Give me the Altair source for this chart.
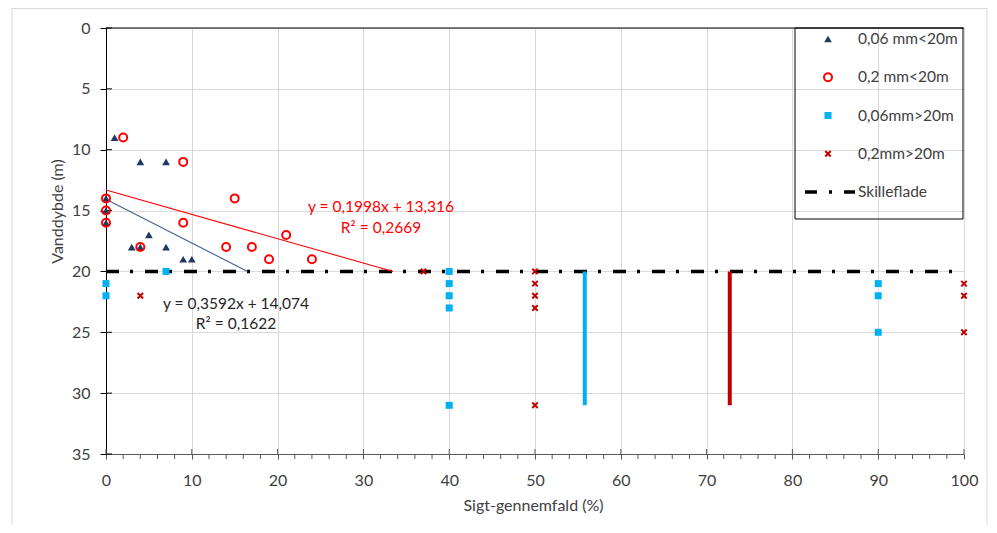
import altair as alt
import pandas as pd

# ---------------- data ----------------
tri_x = [0, 0, 0, 1, 4, 7, 5, 3, 4, 7, 9, 10]
tri_y = [14, 15, 16, 9, 11, 11, 17, 18, 18, 18, 19, 19]
circ_x = [0, 0, 0, 2, 9, 15, 9, 4, 14, 17, 21, 19, 24]
circ_y = [14, 15, 16, 9, 11, 14, 16, 18, 18, 18, 17, 19, 19]
sq_x = [0, 0, 7, 40, 40, 40, 40, 40, 90, 90, 90]
sq_y = [21, 22, 20, 20, 21, 22, 23, 31, 21, 22, 25]
cross_x = [4, 37, 50, 50, 50, 50, 50, 100, 100, 100]
cross_y = [22, 20, 20, 21, 22, 23, 31, 21, 22, 25]

series_labels = ["0,06 mm<20m", "0,2 mm<20m", "0,06mm>20m", "0,2mm>20m", "Skilleflade"]
skille_depth = 20

trend_slope = [0.3592, 0.1998]
trend_intercept = [14.074, 13.316]
trend_eq = ["y = 0,3592x + 14,074", "y = 0,1998x + 13,316"]
trend_r2 = ["R² = 0,1622", "R² = 0,2669"]

bar_x = [55.8, 72.7]
bar_top = [20, 20]
bar_bottom = [31, 31]

x_ticks = [0, 10, 20, 30, 40, 50, 60, 70, 80, 90, 100]
y_ticks = [0, 5, 10, 15, 20, 25, 30, 35]
x_minor = [v for v in range(0, 101, 2) if v % 10 != 0]

# ---------------- styles ----------------
FONT = "Lato"
TXT = "#404040"
W, H = 858, 426

xs = alt.Scale(domain=[0, 100], nice=False, zero=False)
ys = alt.Scale(domain=[0, 35], reverse=True, nice=False, zero=False)

x_axis = alt.Axis(values=x_ticks, format="d", title="Sigt-gennemfald (%)",
                  grid=True, gridColor="#D9D9D9", gridWidth=1,
                  domainColor="#595959", tickColor="#595959", tickSize=5,
                  labelPadding=13, labelFlush=False, labelFont=FONT, labelFontSize=16,
                  labelColor=TXT, titleFont=FONT, titleFontSize=16,
                  titleFontWeight="normal", titleColor=TXT,
                  titleX=427, titleY=51, titleBaseline="middle", titleAlign="center")
y_axis = alt.Axis(values=y_ticks, format="d", title="Vanddybde (m)",
                  grid=True, gridColor="#D9D9D9", gridWidth=1,
                  domainColor="#000000", tickColor="#000000", tickSize=6,
                  labelPadding=10, labelFlush=False, labelFont=FONT, labelFontSize=16,
                  labelColor=TXT, titleFont=FONT, titleFontSize=16,
                  titleFontWeight="normal", titleColor=TXT,
                  titleX=-49, titleY=183, titleAngle=270,
                  titleBaseline="middle", titleAlign="center")


def X(f="x"):
    return alt.X(f"{f}:Q", scale=xs, axis=x_axis)


def Y(f="y"):
    return alt.Y(f"{f}:Q", scale=ys, axis=y_axis)


one = pd.DataFrame({"k": [0]})

point_styles = [
    dict(shape="triangle-up", filled=True, color="#1F3864", size=60),
    dict(shape="circle", filled=False, color="#FF0000", size=64, strokeWidth=2),
    dict(shape="square", filled=True, color="#00B0F0", size=49),
    dict(shape="M-1,-1L1,1M-1,1L1,-1", filled=False, color="#C00000", size=30, strokeWidth=2),
]
series_xy = [(tri_x, tri_y), (circ_x, circ_y), (sq_x, sq_y), (cross_x, cross_y)]

layers = []

# outer chart border
layers.append(alt.Chart(one).mark_rect(fillOpacity=0, stroke="#D9D9D9", strokeWidth=1).encode(
    x=alt.value(-94), x2=alt.value(881), y=alt.value(-19.5), y2=alt.value(600)))

# top line of plot area
top_df = pd.DataFrame({"x": [min(x_ticks)], "x2": [max(x_ticks)], "y": [min(y_ticks)]})
layers.append(alt.Chart(top_df).mark_rule(color="#000000", strokeWidth=1).encode(
    x=X(), x2="x2:Q", y=Y()))

# inward y ticks
layers.append(alt.Chart(pd.DataFrame({"v": y_ticks})).mark_rule(color="#000000").encode(
    y=Y("v"), x=alt.value(0), x2=alt.value(6)))
# inward x major ticks
layers.append(alt.Chart(pd.DataFrame({"v": x_ticks})).mark_rule(color="#595959").encode(
    x=X("v"), y=alt.value(H - 5), y2=alt.value(H)))
# x minor ticks
layers.append(alt.Chart(pd.DataFrame({"v": x_minor})).mark_rule(color="#595959").encode(
    x=X("v"), y=alt.value(H), y2=alt.value(H + 5)))

# Skilleflade
sk_df = pd.DataFrame({"x": [min(x_ticks)], "x2": [max(x_ticks)], "y": [skille_depth]})
layers.append(alt.Chart(sk_df).mark_rule(color="#000000", strokeWidth=3.5,
                                         strokeDash=[13, 11, 3, 12]).encode(
    x=X(), x2="x2:Q", y=Y()))

# vertical bars
bar_colors = ["#00B0F0", "#C00000"]
for i in range(len(bar_x)):
    bdf = pd.DataFrame({"x": [bar_x[i]], "y": [bar_top[i]], "y2": [bar_bottom[i]]})
    layers.append(alt.Chart(bdf).mark_rule(color=bar_colors[i], strokeWidth=4).encode(
        x=X(), y=Y(), y2="y2:Q"))

# trend lines (from x=0 to the Skilleflade depth)
trend_colors = ["#4A5D8F", "#FF0000"]
for i in range(len(trend_slope)):
    x_end = (skille_depth - trend_intercept[i]) / trend_slope[i]
    tdf = pd.DataFrame({"x": [0.0], "y": [trend_intercept[i]],
                        "x2": [x_end], "y2": [float(skille_depth)]})
    layers.append(alt.Chart(tdf).mark_rule(color=trend_colors[i], strokeWidth=1.1).encode(
        x=X(), y=Y(), x2="x2:Q", y2="y2:Q"))

# points
for (xv, yv), st in zip(series_xy, point_styles):
    pdf = pd.DataFrame({"x": xv, "y": yv})
    layers.append(alt.Chart(pdf).mark_point(opacity=1, **st).encode(x=X(), y=Y()))

# trend labels
label_colors = ["#262626", "#FF0000"]
label_pos = [(130, 276, 296), (275, 179, 200)]
for i in range(len(trend_eq)):
    px, py1, py2 = label_pos[i]
    layers.append(alt.Chart(one).mark_text(text=trend_eq[i], font=FONT, fontSize=15.5,
                                           color=label_colors[i], align="center",
                                           baseline="middle").encode(
        x=alt.value(px), y=alt.value(py1)))
    layers.append(alt.Chart(one).mark_text(text=trend_r2[i], font=FONT, fontSize=15.5,
                                           color=label_colors[i], align="center",
                                           baseline="middle").encode(
        x=alt.value(px), y=alt.value(py2)))

# legend
LX0, LX1, LY0, LY1 = 689, 857, 0, 191
layers.append(alt.Chart(one).mark_rect(fillOpacity=0, stroke="#000000", strokeWidth=1).encode(
    x=alt.value(LX0), x2=alt.value(LX1), y=alt.value(LY0), y2=alt.value(LY1)))
for i, lab in enumerate(series_labels):
    ry = 11 + 38.25 * i
    if i < len(point_styles):
        layers.append(alt.Chart(one).mark_point(opacity=1, **point_styles[i]).encode(
            x=alt.value(722), y=alt.value(ry)))
    else:
        layers.append(alt.Chart(one).mark_rule(color="#000000", strokeWidth=3.5,
                                               strokeDash=[12, 12, 3, 12]).encode(
            x=alt.value(699), x2=alt.value(749), y=alt.value(ry)))
    layers.append(alt.Chart(one).mark_text(text=lab, font=FONT, fontSize=15.5, color=TXT,
                                           align="left", baseline="middle").encode(
        x=alt.value(752), y=alt.value(ry)))

chart = alt.layer(*layers).properties(
    width=W, height=H,
    autosize=alt.AutoSizeParams(type="none"),
    padding={"left": 98, "top": 20, "right": 25, "bottom": 71},
).configure_view(strokeOpacity=0)

chart.save("out.html", embed_options={"renderer": "svg", "actions": False})
